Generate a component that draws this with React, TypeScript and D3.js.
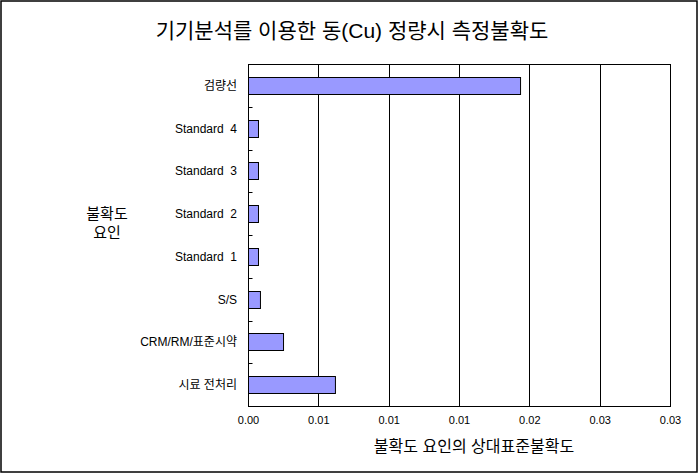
import React from "react";
import * as d3 from "d3";

const categories = [
  "검량선",
  "Standard  4",
  "Standard  3",
  "Standard  2",
  "Standard  1",
  "S/S",
  "CRM/RM/표준시약",
  "시료 전처리",
];
const values = [0.01934, 0.00071, 0.00071, 0.00071, 0.00071, 0.00085, 0.00249, 0.00618];
const tickValues = [0, 0.005, 0.01, 0.015, 0.02, 0.025, 0.03];
const title = "기기분석를 이용한 동(Cu) 정량시 측정불확도";
const xTitle = "불확도 요인의 상대표준불확도";
const yTitle = ["불확도", "요인"];

const W = 700;
const H = 474;
const left = 248.5;
const right = 670.5;
const top = 64.5;
const bottom = 406.5;
const FONT = "'Liberation Sans', 'Noto Sans CJK KR', sans-serif";

export default function App() {
  const x = d3.scaleLinear().domain([0, 0.03]).range([left, right]);
  const band = (bottom - top) / categories.length;
  const fmt = d3.format(".2f");
  const barH = Math.round(band * 0.4);

  return (
    <svg width={W} height={H} style={{ position: "absolute", left: 0, top: 0, background: "#fff" }}>
      <rect x={1} y={1} width={696} height={471} fill="#fff" stroke="#000" strokeWidth={1.5} />
      <text x={352} y={38} textAnchor="middle" fontFamily={FONT} fontSize={21} fill="#000">
        {title}
      </text>
      {/* gridlines */}
      {tickValues.slice(1).map((t, i) => (
        <line key={i} x1={Math.round(x(t) - 0.5) + 0.5} x2={Math.round(x(t) - 0.5) + 0.5} y1={top} y2={bottom} stroke="#000" strokeWidth={1} />
      ))}
      <rect x={left} y={top} width={right - left} height={bottom - top} fill="none" stroke="#000" strokeWidth={1} />
      {/* y ticks */}
      {d3.range(1, categories.length).map((i) => (
        <line key={i} x1={left} x2={left + 4} y1={Math.round(top + i * band - 0.5) + 0.5} y2={Math.round(top + i * band - 0.5) + 0.5} stroke="#000" strokeWidth={1} />
      ))}
      {/* bars */}
      {categories.map((c, i) => {
        const cy = top + (i + 0.5) * band;
        return (
          <rect
            key={c}
            x={x(0)}
            y={Math.round(cy - barH / 2 - 0.5) + 0.5}
            width={x(values[i]) - x(0)}
            height={barH}
            fill="#9999FF"
            stroke="#000"
            strokeWidth={1}
          />
        );
      })}
      {/* y labels */}
      {categories.map((c, i) => (
        <text
          key={c}
          x={237}
          y={top + (i + 0.5) * band + 4}
          textAnchor="end"
          fontFamily={FONT}
          fontSize={12}
          fill="#000"
          style={{ whiteSpace: "pre" }}
        >
          {c}
        </text>
      ))}
      {/* x labels */}
      {tickValues.map((t, i) => (
        <text key={i} x={x(t)} y={424} textAnchor="middle" fontFamily={FONT} fontSize={11} fill="#000">
          {fmt(t)}
        </text>
      ))}
      <text x={474} y={452} textAnchor="middle" fontFamily={FONT} fontSize={16} fill="#000">
        {xTitle}
      </text>
      {yTitle.map((t, i) => (
        <text key={i} x={107} y={219 + i * 19} textAnchor="middle" fontFamily={FONT} fontSize={15} fill="#000">
          {t}
        </text>
      ))}
    </svg>
  );
}
